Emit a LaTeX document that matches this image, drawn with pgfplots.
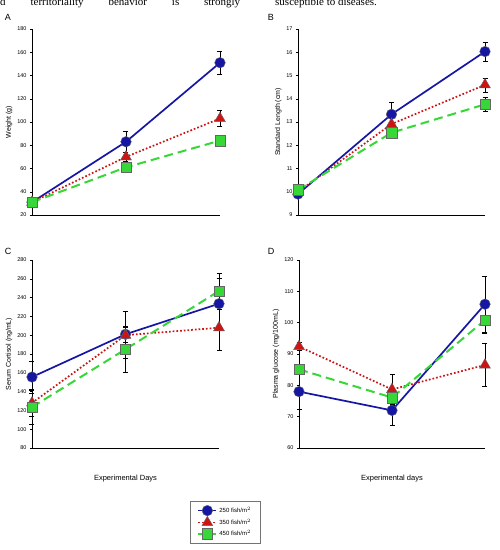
\documentclass[border=0pt]{standalone}
\usepackage{pgfplots}
\pgfplotsset{compat=1.18}
\usepackage{fontspec}
\setmainfont{Liberation Sans}
\newfontfamily\bodyserif{Liberation Serif}

\definecolor{cblue}{RGB}{22,22,165}
\definecolor{cred}{RGB}{205,20,20}
\definecolor{cgreen}{RGB}{55,215,55}

\pgfplotsset{
  panel/.style={
    scale only axis, axis lines*=left, axis line style={-, line width=0.6pt},
    xmin=0, xmax=2, xtick=\empty, ytick pos=left,
    tick align=outside, major tick length=2pt, tick style={black, line width=0.5pt},
    clip=false,
    ticklabel style={font=\fontsize{5.5}{6}\selectfont},
    /pgf/number format/assume math mode=true,
    ylabel style={font=\fontsize{7}{8}\selectfont, yshift=-2pt},
    xlabel style={font=\fontsize{7.5}{8}\selectfont, at={(axis description cs:0.5,-0.16)}, anchor=center},
    error bars/y dir=both, error bars/y explicit,
    error bars/error bar style={solid, black, line width=0.5pt},
    error bars/error mark options={solid, rotate=90, mark size=2.5pt, black, line width=0.5pt},
  },
  leg/.style={legend image code/.code={%
      \draw[mark repeat=2, mark phase=2] plot coordinates {(0pt,0pt) (9pt,0pt) (18pt,0pt)};}},
  s250/.style={cblue, line width=1.7pt, solid, mark=*, mark size=5.3pt,
    mark options={solid, fill=cblue, draw=black!60, line width=0.4pt}, leg},
  s350/.style={cred, line width=1.7pt, dotted, mark=triangle*, mark size=6.3pt,
    mark options={solid, fill=cred, draw=black!60, line width=0.4pt}, leg},
  s450/.style={cgreen, line width=2pt, dash pattern=on 9pt off 5pt, mark=square*, mark size=5.2pt,
    mark options={solid, fill=cgreen, draw=black!60, line width=0.4pt}, leg},
}

\begin{document}
\begin{tikzpicture}
\path[use as bounding box] (0pt,0pt) rectangle (500pt,-550pt);

% running text of the page, cut by the top edge
\begin{scope}
  \clip (0pt,0pt) rectangle (500pt,-550pt);
  \node[anchor=base west, inner sep=0pt, font=\bodyserif\fontsize{11}{12}\selectfont] at (0pt,-5pt)
    {\makebox[240pt][s]{d territoriality behavior is strongly}};
  \node[anchor=base west, inner sep=0pt, font=\bodyserif\fontsize{11}{12}\selectfont] at (275pt,-5pt)
    {susceptible to diseases.};
\end{scope}

% panel letters
\node[font=\fontsize{9}{10}\selectfont] at (8pt,-17pt) {A};
\node[font=\fontsize{9}{10}\selectfont] at (271pt,-17pt) {B};
\node[font=\fontsize{9}{10}\selectfont] at (8pt,-251pt) {C};
\node[font=\fontsize{9}{10}\selectfont] at (271pt,-251pt) {D};

% A: weight
\begin{axis}[panel, at={(32pt,-215pt)}, anchor=south west, width=188pt, height=186pt,
  ymin=20, ymax=180, ytick={20,40,...,180}, ylabel={Weight (g)}]
\addplot+[s250] coordinates {(0,31) +- (0,2) (1,83) +- (0,9) (2,151) +- (0,10)};
\addplot+[s350] coordinates {(0,31) +- (0,1) (1,70) +- (0,4) (2,103) +- (0,7)};
\addplot+[s450] coordinates {(0,31) +- (0,2) (1,61) +- (0,4) (2,84) +- (0,5)};
\end{axis}

% B: standard length
\begin{axis}[panel, at={(298pt,-215pt)}, anchor=south west, width=187pt, height=186pt,
  ymin=9, ymax=17, ytick={9,10,...,17}, ylabel={Standard Length (cm)}]
\addplot+[s250] coordinates {(0,9.9) +- (0,0.1) (1,13.33) +- (0,0.5) (2,16.03) +- (0,0.4)};
\addplot+[s350] coordinates {(0,10.0) +- (0,0.1) (1,12.91) +- (0,0.3) (2,14.6) +- (0,0.3)};
\addplot+[s450] coordinates {(0,10.08) +- (0,0.15) (1,12.54) +- (0,0.25) (2,13.76) +- (0,0.3)};
\end{axis}

% C: serum cortisol
\begin{axis}[panel, at={(32pt,-448pt)}, anchor=south west, width=187pt, height=188pt,
  ymin=80, ymax=280, ytick={80,100,...,280}, ylabel={Serum Cortisol (ng/mL)},
  xlabel={Experimental Days},
  legend style={at={(0.845,-0.28)}, anchor=north west, draw=black!55, line width=0.7pt,
    font=\fontsize{6}{7}\selectfont, inner xsep=7pt, inner ysep=4pt,
    row sep=0pt, cells={anchor=west}},
  legend cell align=left]
\addplot+[s250] coordinates {(0,155.5) +- (0,17) (1,201) +- (0,25) (2,233.5) +- (0,27)};
\addplot+[s350] coordinates {(0,128) +- (0,14) (1,200) +- (0,8) (2,208) +- (0,24)};
\addplot+[s450] coordinates {(0,123.5) +- (0,18) (1,185) +- (0,24) (2,247) +- (0,19)};
\legend{250 fish/m$^2$, 350 fish/m$^2$, 450 fish/m$^2$}
\end{axis}

% D: plasma glucose
\begin{axis}[panel, at={(299pt,-448pt)}, anchor=south west, width=186pt, height=188pt,
  ymin=60, ymax=120, ytick={60,70,...,120}, ylabel={Plasma glucose (mg/100mL)},
  xlabel={Experimental days}]
\addplot+[s250] coordinates {(0,78) +- (0,5.5) (1,72) +- (0,4.8) (2,105.9) +- (0,9)};
\addplot+[s350] coordinates {(0,92.4) +- (0,1.2) (1,78.7) +- (0,5) (2,86.5) +- (0,6.8)};
\addplot+[s450] coordinates {(0,85.1) +- (0,1.5) (1,76.1) +- (0,2) (2,100.8) +- (0,4.3)};
\end{axis}
\end{tikzpicture}
\end{document}
